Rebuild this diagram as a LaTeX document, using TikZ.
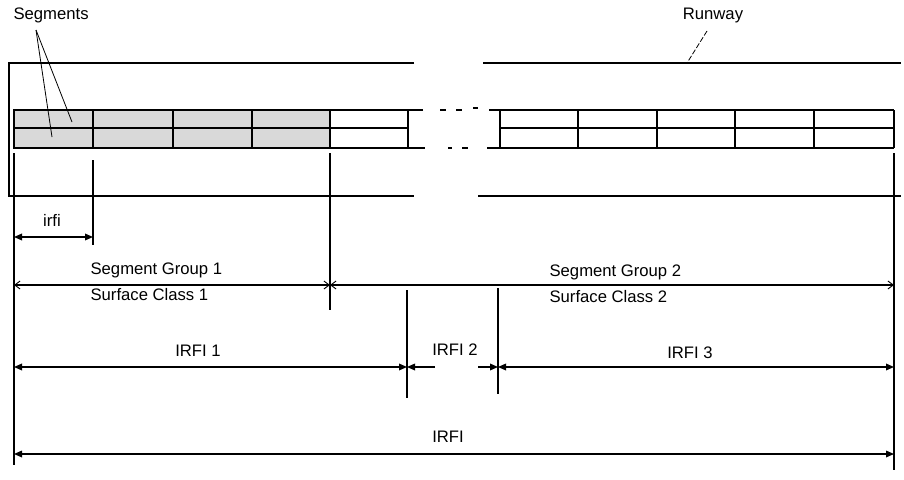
\documentclass[tikz,border=0pt]{standalone}
\usepackage{fontspec}
\setmainfont{Liberation Sans}
\usetikzlibrary{arrows.meta}
\begin{document}
\begin{tikzpicture}[x=0.75pt,y=-0.75pt,line width=0.9pt,
  lbl/.style={font=\fontsize{12.5}{14}\selectfont,inner sep=0pt},
  thin leader/.style={line width=0.6pt},
  heavy/.style={line width=2pt},
  dimfilled/.style={{Triangle[length=6pt,width=5pt]}-{Triangle[length=6pt,width=5pt]}},
  dimopen/.style={{Straight Barb[length=4pt,width=6pt,line width=0.7pt]}-{Straight Barb[length=4pt,width=6pt,line width=0.7pt]}},
  oneway/.style={-{Triangle[length=6pt,width=5pt]}},
  shadecell/.style={fill=black!15}]
\useasboundingbox (0,0) rectangle (904,479);
% runway outline
\draw (414,63) -- (9,63) -- (9,196) -- (414,196);
\draw (483,63) -- (901,63);
\draw (478,196) -- (901,196);
% left segments
\fill[shadecell] (14,110) rectangle (330,148);
\draw (423,110) -- (14,110) -- (14,148) -- (425,148);
\draw (14,128) -- (408,128);
\draw (408,110) -- (408,148);
\draw[heavy] (93,110) -- (93,148);
\foreach \x in {173,252,330} \draw (\x,110) -- (\x,148);
% gap dashes
\draw (440,110) -- (446,110) (456,110) -- (462,110) (473,108) -- (478,108);
\draw (448,148) -- (452,148) (462,148) -- (468,148);
% right segments
\draw (489,110) -- (894,110);
\draw (487,148) -- (894,148);
\draw (500,128) -- (894,128);
\foreach \x in {500,578,657,735,894} \draw (\x,110) -- (\x,148);
\draw[heavy] (814,110) -- (814,148);
% labels and leaders
\node[lbl,anchor=west] (seglbl) at (13,15) {Segments};
\coordinate (segtip) at (36,30);
\coordinate (cellA) at (52,137);
\coordinate (cellB) at (72,122);
\draw[thin leader] (segtip) -- (cellA);
\draw[thin leader] (segtip) -- (cellB);
\node[lbl] (rwlbl) at (713,15) {Runway};
\coordinate (rwtip) at (707,31);
\coordinate (rwedge) at (687,63);
\draw[thin leader,dash pattern=on 4pt off 1.5pt] (rwtip) -- (rwedge);
% extension lines
\draw (14,153) -- (14,465);
\draw (93,160) -- (93,245);
\draw (330,153) -- (330,310);
\draw (407,290) -- (407,398);
\draw (498,288) -- (498,394);
\draw (894,153) -- (894,470);
% dimension end points
\coordinate (ia) at (14,237); \coordinate (ib) at (93,237);
\coordinate (ga) at (14,285); \coordinate (gb) at (330,285); \coordinate (gc) at (894,285);
\coordinate (ra) at (14,367); \coordinate (rb) at (407,367); \coordinate (rc) at (498,367); \coordinate (rd) at (894,367);
\coordinate (r2l) at (435,367); \coordinate (r2r) at (478,367);
\coordinate (ta) at (14,454); \coordinate (tb) at (894,454);
% dimensions
\draw[dimfilled] (ia) -- (ib);
\node[lbl] (irfi) at (52,220) {irfi};
\draw[dimopen] (ga) -- (gb);
\draw[dimopen] (gb) -- (gc);
\node[lbl,anchor=west] (sg1) at (90,270) {Segment Group 1};
\node[lbl,anchor=west] (sc1) at (90,295) {Surface Class 1};
\node[lbl,anchor=west] (sg2) at (549,272) {Segment Group 2};
\node[lbl,anchor=west] (sc2) at (549,297) {Surface Class 2};
\draw[dimfilled] (ra) -- (rb);
\draw[oneway] (r2l) -- (rb);
\draw[oneway] (r2r) -- (rc);
\draw[dimfilled] (rc) -- (rd);
\node[lbl] (irfi1) at (198,351) {IRFI 1};
\node[lbl] (irfi2) at (455,350) {IRFI 2};
\node[lbl] (irfi3) at (690,353) {IRFI 3};
\draw[dimfilled] (ta) -- (tb);
\node[lbl] (irfiall) at (448,437) {IRFI};
\end{tikzpicture}
\end{document}
